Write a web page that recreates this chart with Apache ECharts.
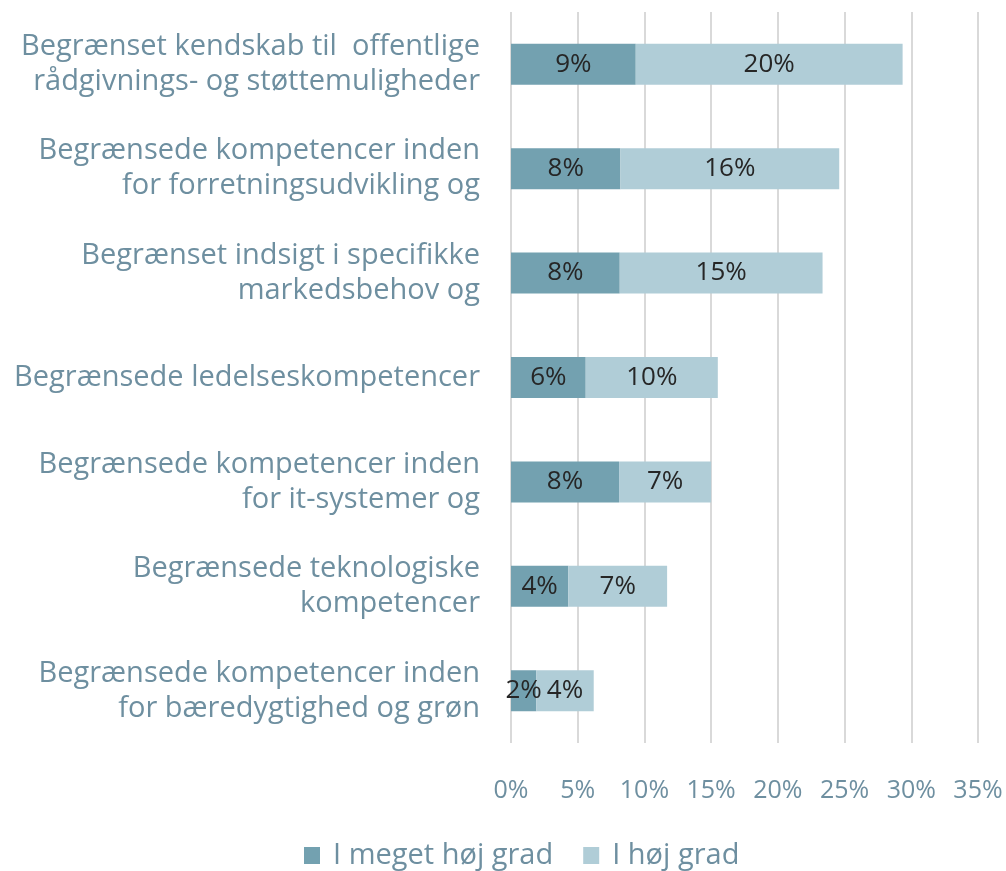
<!DOCTYPE html>
<html>
<head>
<meta charset="utf-8">
<script src="https://cdn.jsdelivr.net/npm/echarts@6/dist/echarts.min.js"></script>
<style>
  html, body { margin: 0; padding: 0; background: #fff; }
  #chart { width: 1006px; height: 871px; }
</style>
</head>
<body>
<div id="chart"></div>
<script>
var categories = [
    'Begrænset kendskab til  offentlige\nrådgivnings- og støttemuligheder',
    'Begrænsede kompetencer inden\nfor forretningsudvikling og',
    'Begrænset indsigt i specifikke\nmarkedsbehov og',
    'Begrænsede ledelseskompetencer',
    'Begrænsede kompetencer inden\nfor it-systemer og',
    'Begrænsede teknologiske\nkompetencer',
    'Begrænsede kompetencer inden\nfor bæredygtighed og grøn'
];
var meget = [9.35, 8.2, 8.15, 5.6, 8.1, 4.3, 1.9];   // I meget høj grad
var hoej = [20.0, 16.4, 15.2, 9.9, 6.9, 7.4, 4.3];    // I høj grad
var xTicks = [0, 5, 10, 15, 20, 25, 30, 35];

var textColor = '#6e8fa0';
var fontFam = '"Open Sans", Lato, sans-serif';

var myCharts = echarts.init(document.getElementById('chart'));
var option = {
    animation: false,
    textStyle: { fontFamily: fontFam },
    grid: {
        left: 511,
        right: 28,
        top: 12,
        bottom: 128
    },
    legend: {
        top: 836,
        left: 299,
        itemWidth: 16,
        itemHeight: 17,
        itemGap: 30,
        icon: 'rect',
        textStyle: { color: textColor, fontSize: 29, fontFamily: fontFam, padding: [0, 0, 0, 8] },
        data: ['I meget høj grad', 'I høj grad']
    },
    xAxis: {
        type: 'value',
        min: xTicks[0],
        max: xTicks[xTicks.length - 1],
        interval: 5,
        axisLine: { show: false },
        axisTick: { show: false },
        splitLine: { lineStyle: { color: '#d9d9d9', width: 2 } },
        axisLabel: {
            color: textColor,
            fontSize: 25,
            margin: 35,
            formatter: '{value}%'
        }
    },
    yAxis: {
        type: 'category',
        inverse: true,
        data: categories,
        axisLine: { show: false },
        axisTick: { show: false },
        axisLabel: {
            color: textColor,
            fontSize: 29,
            lineHeight: 35,
            margin: 31,
            align: 'right'
        }
    },
    series: [
        {
            name: 'I meget høj grad',
            type: 'bar',
            stack: 'total',
            barWidth: 41,
            itemStyle: { color: '#73a1b0' },
            label: {
                show: true,
                position: 'inside',
                color: '#262626',
                fontSize: 26,
                formatter: function (p) { return Math.round(p.value) + '%'; }
            },
            data: meget
        },
        {
            name: 'I høj grad',
            type: 'bar',
            stack: 'total',
            barWidth: 41,
            itemStyle: { color: '#b0cdd7' },
            label: {
                show: true,
                position: 'inside',
                color: '#262626',
                fontSize: 26,
                formatter: function (p) { return Math.round(p.value) + '%'; }
            },
            data: hoej
        }
    ]
};
myCharts.setOption(option);
</script>
</body>
</html>
